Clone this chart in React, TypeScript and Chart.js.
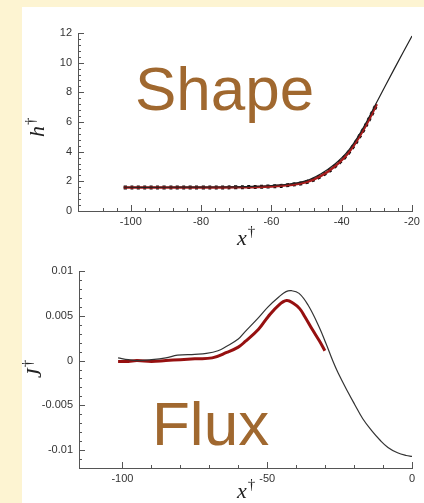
import React, { useEffect, useRef } from "react";
import { Chart, registerables } from "chart.js";

Chart.register(...registerables);

// ---------- Shape panel data ----------
const shapeTheoryX = [-102, -90, -80, -70, -65, -60, -55, -50, -46, -42, -38, -34, -30, -25, -20];
const shapeTheoryH = [1.6, 1.6, 1.61, 1.63, 1.66, 1.72, 1.82, 2.05, 2.5, 3.15, 4.1, 5.55, 7.35, 9.6, 11.8];
const shapeDataX = [-102, -90, -80, -70, -60, -55, -50, -46, -42, -38, -34, -30];
const shapeDataH = [1.58, 1.58, 1.58, 1.6, 1.66, 1.75, 1.95, 2.35, 3.0, 3.95, 5.4, 7.2];
const shapeXTickLabels = [-100, -80, -60, -40, -20];
const shapeYTickLabels = [0, 2, 4, 6, 8, 10, 12];

// ---------- Flux panel data ----------
const fluxTheoryX = [-101.5, -98, -95, -90, -85, -81, -75, -71, -67, -64, -60, -57.7, -53, -49.7, -46, -43.5, -41.6, -39, -35.9, -32, -29.7, -27.4, -25.5, -22, -19.8, -17, -14, -11, -8.3, -5, -2, 0];
const fluxTheoryJ = [0.0003, 0.0001, 0.0, 0.0001, 0.0003, 0.0006, 0.0007, 0.0008, 0.0011, 0.0016, 0.0024, 0.0032, 0.0048, 0.006, 0.0071, 0.0077, 0.0078, 0.0075, 0.0062, 0.0037, 0.0019, 0.0, -0.0014, -0.0036, -0.0049, -0.0065, -0.0078, -0.0089, -0.0097, -0.0103, -0.0106, -0.0107];
const fluxDataX = [-101.5, -98, -95, -90, -85, -80, -75, -69, -64, -60, -57.7, -53, -49.7, -46, -43.3, -41, -38.8, -37, -34.3, -32, -30.1];
const fluxDataJ = [-0.0001, -0.0001, 0.0, -0.0001, 0.0, 0.0001, 0.0002, 0.0003, 0.0009, 0.0015, 0.0021, 0.0035, 0.0049, 0.0062, 0.0067, 0.0064, 0.0058, 0.0049, 0.0034, 0.0022, 0.0011];
const fluxXTickLabels = [-100, -50, 0];
const fluxYTickLabels = [0.01, 0.005, 0, -0.005, -0.01];

const BROWN = "#a0682f";
const AXIS = "#555";
const TICKFONT = { family: "'Liberation Sans', Arial, sans-serif", size: 11 };

const pts = (xs: number[], ys: number[]) => xs.map((x, i) => ({ x, y: ys[i] }));
const isIn = (v: number, list: number[]) => list.some((l) => Math.abs(l - v) < 1e-9);
const onStep = (v: number, step: number) => Math.abs(v / step - Math.round(v / step)) < 1e-6;

const inwardTicks = {
  id: "inwardTicks",
  afterDatasetsDraw(chart: any, _args: any, opts: any) {
    const ctx = chart.ctx;
    const { left, bottom } = chart.chartArea;
    ctx.save();
    ctx.strokeStyle = AXIS;
    ctx.lineWidth = 1;
    for (const id of ["x", "y"]) {
      const s = chart.scales[id];
      const o = opts[id];
      for (const t of s.ticks) {
        const v = t.value;
        if (!onStep(v, o.step)) continue;
        const len = onStep(v, o.major) ? 6 : 3;
        const p = Math.round(s.getPixelForValue(v)) + 0.5;
        ctx.beginPath();
        if (id === "x") {
          ctx.moveTo(p, bottom);
          ctx.lineTo(p, bottom - len);
        } else {
          ctx.moveTo(left, p);
          ctx.lineTo(left + len, p);
        }
        ctx.stroke();
      }
    }
    ctx.restore();
  },
};

function drawSym(ctx: any, letter: string, x: number, y: number) {
  ctx.font = "italic 22px 'Liberation Serif', 'Times New Roman', serif";
  ctx.fillText(letter, x, y);
  const w = ctx.measureText(letter).width;
  ctx.font = "15px 'Liberation Serif', 'Times New Roman', serif";
  ctx.fillText("\u2020", x + w + 1, y - 9);
}

const overlayText = {
  id: "overlayText",
  afterDraw(chart: any, _args: any, opts: any) {
    const ctx = chart.ctx;
    ctx.save();
    ctx.textBaseline = "alphabetic";
    ctx.textAlign = "left";
    ctx.fillStyle = BROWN;
    ctx.font = "62px 'Liberation Sans', Arial, sans-serif";
    ctx.fillText(opts.big, opts.bigX, opts.bigY);
    ctx.fillStyle = "#222";
    drawSym(ctx, "x", opts.xtX, opts.xtY);
    ctx.translate(opts.ytX, opts.ytY);
    ctx.rotate(-Math.PI / 2);
    drawSym(ctx, opts.yLetter, -12, 0);
    ctx.restore();
  },
};

function makeScale(min: number, max: number, step: number, labels: number[], fmt: (v: number) => string, isX: boolean, fixed: number) {
  return {
    type: "linear",
    min,
    max,
    afterFit: (s: any) => {
      if (isX) s.height = fixed;
      else s.width = fixed;
    },
    ticks: {
      stepSize: step,
      autoSkip: false,
      maxRotation: 0,
      minRotation: 0,
      padding: isX ? 4 : 6,
      color: "#333",
      font: TICKFONT,
      callback: (v: any) => (isIn(Number(v), labels) ? fmt(Number(v)) : ""),
    },
    grid: { display: true, drawOnChartArea: false, drawTicks: false },
    border: { display: true, color: AXIS, width: 1 },
  };
}

function useChart(ref: any, config: any) {
  useEffect(() => {
    const chart = new Chart(ref.current, config);
    return () => chart.destroy();
  }, []);
}

function ShapeChart() {
  const ref = useRef<HTMLCanvasElement>(null);
  useChart(ref, {
    type: "line",
    data: {
      datasets: [
        {
          data: pts(shapeTheoryX, shapeTheoryH),
          borderColor: "#222",
          borderWidth: 1.2,
          pointRadius: 0,
          tension: 0.4,
        },
        {
          data: pts(shapeDataX, shapeDataH),
          borderColor: "#a81c1c",
          borderWidth: 2.5,
          pointRadius: 0,
          tension: 0.4,
        },
        {
          data: pts(shapeDataX, shapeDataH),
          borderColor: "#0a0a0a",
          borderWidth: 4,
          borderDash: [3, 3.5],
          pointRadius: 0,
          tension: 0.4,
        },
      ],
    },
    options: {
      responsive: false,
      animation: false,
      layout: { padding: { top: 26, right: 12, left: 0, bottom: 0 } },
      plugins: {
        legend: { display: false },
        tooltip: { enabled: false },
        inwardTicks: { x: { step: 4, major: 20 }, y: { step: 0.4, major: 2 } },
        overlayText: { big: "Shape", bigX: 113, bigY: 103, xtX: 215, xtY: 238, ytX: 22, ytY: 118, yLetter: "h" },
      },
      scales: {
        x: makeScale(-115, -20, 4, shapeXTickLabels, (v) => String(Math.round(v)), true, 39),
        y: makeScale(0, 12, 0.4, shapeYTickLabels, (v) => String(Math.round(v)), false, 56),
      },
    },
    plugins: [inwardTicks, overlayText],
  });
  return <canvas ref={ref} width={402} height={243} style={{ position: "absolute", left: 22, top: 7 }} />;
}

function FluxChart() {
  const ref = useRef<HTMLCanvasElement>(null);
  useChart(ref, {
    type: "line",
    data: {
      datasets: [
        {
          data: pts(fluxTheoryX, fluxTheoryJ),
          borderColor: "#333",
          borderWidth: 1.2,
          pointRadius: 0,
          tension: 0.4,
        },
        {
          data: pts(fluxDataX, fluxDataJ),
          borderColor: "#961010",
          borderWidth: 3,
          pointRadius: 0,
          tension: 0.4,
        },
      ],
    },
    options: {
      responsive: false,
      animation: false,
      layout: { padding: { top: 21, right: 12, left: 0, bottom: 0 } },
      plugins: {
        legend: { display: false },
        tooltip: { enabled: false },
        inwardTicks: { x: { step: 10, major: 50 }, y: { step: 0.001, major: 0.005 } },
        overlayText: { big: "Flux", bigX: 130, bigY: 195, xtX: 215, xtY: 248, ytX: 19, ytY: 116, yLetter: "J" },
      },
      scales: {
        x: makeScale(-115, 0, 10, fluxXTickLabels, (v) => String(Math.round(v)), true, 35),
        y: makeScale(-0.012, 0.01, 0.001, fluxYTickLabels, (v) => String(parseFloat(v.toFixed(4))), false, 57),
      },
    },
    plugins: [inwardTicks, overlayText],
  });
  return <canvas ref={ref} width={402} height={253} style={{ position: "absolute", left: 22, top: 250 }} />;
}

export default function App() {
  return (
    <div style={{ position: "fixed", left: 0, top: 0, width: 424, height: 503, background: "#fdf4d2", overflow: "hidden" }}>
      <div style={{ position: "absolute", left: 22, top: 7, width: 402, height: 496, background: "#ffffff" }} />
      <ShapeChart />
      <FluxChart />
    </div>
  );
}
